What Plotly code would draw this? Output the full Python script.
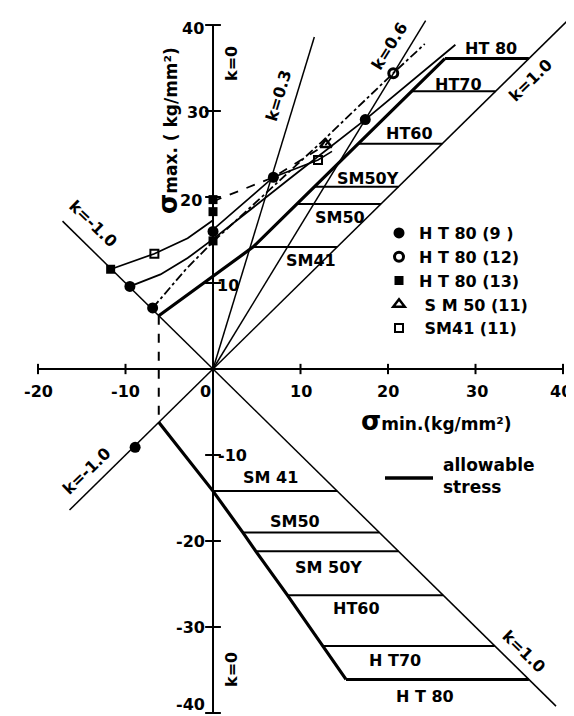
import plotly.graph_objects as go

# values, kg/mm^2
x_ticks = [-20, -10, 0, 10, 20, 30, 40]
y_ticks = [-40, -30, -20, -10, 10, 20, 30, 40]

ray_k = [0.3, 0.6, 1.0]
ray_top = [38.6, 40.5, 40.7]       # sigma max where the k rays stop
neg_ray_top = 17.2                 # upper k=-1.0 line
low_ray_end = [39.2, -16.4]        # lower k=1.0 and k=-1.0 lines (sigma min)

steels = ["SM41", "SM50", "SM50Y", "HT60", "HT70", "HT80"]
upper_cap = [14.2, 19.2, 21.2, 26.2, 32.3, 36.1]
upper_corner = [4.6, 9.6, 11.6, 16.6, 22.7, 26.5]
lower_cap = [-14.2, -19.0, -21.2, -26.3, -32.2, -36.1]
lower_corner = [0.0, 3.4, 4.9, 8.5, 12.6, 15.2]
knee = 6.2                         # allowable line meets k=-1.0 here

# test curves
top_x = [-11.7, -6.7, -2.9, 0.0]
top_y = [11.6, 13.4, 15.2, 17.3]
dash_x = [0.0, 6.9, 12.9, 13.8]
dash_y = [19.5, 22.3, 26.1, 27.2]
mid_x = [0.0, 6.9, 12.0, 13.6]
mid_y = [16.2, 22.3, 24.3, 25.3]
ht80_x = [-9.5, -6.0, -2.9, 0.0, 8.6, 17.4, 27.7]
ht80_y = [9.6, 11.0, 12.9, 15.1, 22.0, 29.0, 37.7]
dd_x = [-6.9, -3.1, 0.0, 12.3, 20.6, 24.2]
dd_y = [7.1, 11.6, 14.8, 26.3, 34.4, 37.8]

# test points
ht80_9_x = [-9.5, -6.9, 0.0, 6.9, 17.4, -8.9]
ht80_9_y = [9.6, 7.1, 16.0, 22.3, 29.0, -9.1]
ht80_12_x = [20.6]
ht80_12_y = [34.4]
ht80_13_x = [-11.7, 0.0, 0.0, 0.0]
ht80_13_y = [11.6, 14.9, 18.3, 19.7]
sm50_x = [12.9]
sm50_y = [26.1]
sm41_x = [-6.7, 12.0]
sm41_y = [13.4, 24.3]

W, H = 574, 716
FONT = "DejaVu Sans"


def paper(px, py):
    return px / W, 1 - py / H


fig = go.Figure()


def seg(x, y, width=1.5, dash="solid"):
    fig.add_trace(go.Scatter(x=x, y=y, mode="lines", showlegend=False, hoverinfo="skip",
                             line=dict(color="black", width=width, dash=dash)))


# axes with their ticks
seg([x_ticks[0], x_ticks[-1]], [0, 0], 2)
seg([0, 0], [y_ticks[0], y_ticks[-1]], 2)
tx, ty = [], []
for t in x_ticks:
    if t != 0:
        tx += [t, t, None]
        ty += [-0.6, 0.6, None]
for t in y_ticks:
    tx += [-0.9, 0.9, None]
    ty += [t, t, None]
seg(tx, ty, 2)

# k rays
for k, top in zip(ray_k, ray_top):
    seg([0, k * top], [0, top])
seg([0, -neg_ray_top], [0, neg_ray_top])
seg([0, low_ray_end[0]], [0, -low_ray_end[0]])
seg([0, low_ray_end[1]], [0, low_ray_end[1]])

# allowable stress
seg([-knee] + upper_corner, [knee] + upper_cap, 3.2)
seg([-knee] + lower_corner, [-knee] + lower_cap, 3.2)
seg([-knee, -knee], [knee, -knee], 2, "dash")
for i, s in enumerate(steels):
    w = 3 if s == "HT80" else 2
    seg([upper_corner[i], upper_cap[i]], [upper_cap[i], upper_cap[i]], w)
    seg([lower_corner[i], -lower_cap[i]], [lower_cap[i], lower_cap[i]], w)

# test curves
seg(top_x, top_y, 1.8)
seg(dash_x, dash_y, 1.8, "dash")
seg(mid_x, mid_y, 1.6)
seg(ht80_x, ht80_y, 1.8)
seg(dd_x, dd_y, 1.8, "dashdot")


def pts(x, y, name, symbol, size, lw=0):
    fig.add_trace(go.Scatter(x=x, y=y, mode="markers", name=name,
                             marker=dict(symbol=symbol, size=size, color="black",
                                         line=dict(color="black", width=lw))))


pts(ht80_9_x, ht80_9_y, "H T 80 (9 )", "circle", 11)
pts(ht80_12_x, ht80_12_y, "H T 80 (12)", "circle-open", 9, 3)
pts(ht80_13_x, ht80_13_y, "H T 80 (13)", "square", 9)
pts(sm50_x, sm50_y, " S M 50 (11)", "triangle-up-open", 10, 2.5)
pts(sm41_x, sm41_y, " SM41 (11)", "square-open", 8, 2)

ann = []


def label(text, px, py, size=16, angle=0, anchor="center"):
    x, y = paper(px, py)
    ann.append(dict(text=text, x=x, y=y, xref="paper", yref="paper", showarrow=False,
                    xanchor=anchor, yanchor="middle", textangle=angle, align="left",
                    font=dict(family=FONT, size=size, color="black", weight="bold")))


# tick labels
for t, px in zip(x_ticks, [30, 117, 197, 293, 380, 469, 553]):
    label(str(t), px, 383)
for t, px, py in zip(y_ticks, [182, 182, 182, 224, 220, 183, 190, 185],
                     [696, 619, 533, 447, 277, 193, 105, 20]):
    label(str(t), px, py)

# axis titles
label("<span style='font-size:26px'>σ</span>min.(kg/mm²)", 428, 413, 17)
label("<span style='font-size:26px'>σ</span>max. ( kg/mm²)", 160, 123, 17, -90)

# ray labels
label("k=0", 223, 55, 16, -90)
label("k=0", 223, 661, 16, -90)
label("k=0.3", 271, 88, 16, -73)
label("k=0.6", 381, 38, 16, -58)
label("k=1.0", 522, 72, 16, -44)
label("k=-1.0", 85, 215, 16, 44)
label("k=-1.0", 78, 463, 16, -44)
label("k=1.0", 516, 643, 16, 44)

# steel labels
upper_pos = [(303, 252), (332, 210), (360, 170), (401, 125), (450, 77), (483, 40)]
lower_pos = [(262, 470), (287, 513), (320, 559), (348, 600), (387, 652), (417, 688)]
upper_txt = ["SM41", "SM50", "SM50Y", "HT60", "HT70", "HT 80"]
lower_txt = ["SM 41", "SM50", "SM 50Y", "HT60", "H T70", "H T 80"]
for t, (px, py) in zip(upper_txt, upper_pos):
    label(t, px, py)
for t, (px, py) in zip(lower_txt, lower_pos):
    label(t, px, py)

# allowable stress key
label("allowable<br>stress", 433, 468, 17, 0, "left")
lx0, ly = paper(377, 470)
lx1, _ = paper(425, 470)

fig.update_layout(
    width=W, height=H, margin=dict(l=0, r=0, t=0, b=0),
    paper_bgcolor="white", plot_bgcolor="white",
    xaxis=dict(range=[-23.43, 42.17], visible=False),
    yaxis=dict(range=[-41.28, 41.98], visible=False),
    annotations=ann,
    shapes=[dict(type="line", xref="paper", yref="paper", x0=lx0, x1=lx1, y0=ly, y1=ly,
                 line=dict(color="black", width=3.5))],
    legend=dict(x=paper(371, 0)[0], y=paper(0, 208)[1], xanchor="left", yanchor="top",
                font=dict(family=FONT, size=16, color="black", weight="bold"),
                bgcolor="rgba(0,0,0,0)", itemsizing="trace"),
)

fig.write_html("out.html")
